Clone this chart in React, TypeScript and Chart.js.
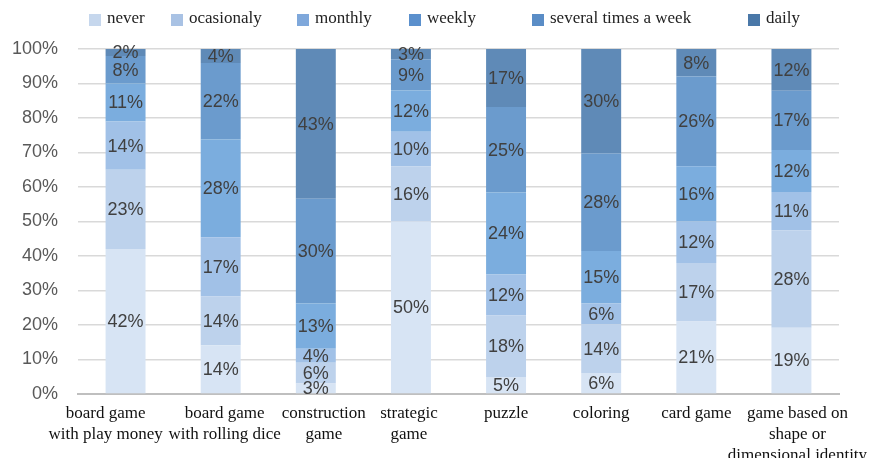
import React, { useEffect, useRef } from "react";
import { Chart, registerables } from "chart.js";

Chart.register(...registerables);

const CATEGORIES: string[][] = [
  ["board game", "with play money"],
  ["board game", "with rolling dice"],
  ["construction", "game"],
  ["strategic", "game"],
  ["puzzle"],
  ["coloring"],
  ["card game"],
  ["game based on", "shape or", "dimensional identity"],
];

const SERIES_NAMES = ["never", "ocasionaly", "monthly", "weekly", "several times a week", "daily"];

const NEVER = [42, 14, 3, 50, 5, 6, 21, 19];
const OCASIONALY = [23, 14, 6, 16, 18, 14, 17, 28];
const MONTHLY = [14, 17, 4, 10, 12, 6, 12, 11];
const WEEKLY = [11, 28, 13, 12, 24, 15, 16, 12];
const SEVERAL = [8, 22, 30, 9, 25, 28, 26, 17];
const DAILY = [2, 4, 43, 3, 17, 30, 8, 12];

const Y_TICKS = [0, 10, 20, 30, 40, 50, 60, 70, 80, 90, 100];

const SERIES = [NEVER, OCASIONALY, MONTHLY, WEEKLY, SEVERAL, DAILY];
const COLORS = ["#d7e4f4", "#bdd2ec", "#a1c1e7", "#7badde", "#6b9bcd", "#5f8ab7"];
const LEGEND_COLORS = ["#c6d7ed", "#a9c2e4", "#7fa8db", "#5b90cd", "#5a8dc6", "#4a78a8"];
const LEGEND_X = [89, 171, 297, 409, 532, 748];
const LABEL_SHIFT = [-20, 4, 8, -2, 0, 0, 0, 6];

const totals = CATEGORIES.map((_, i) => SERIES.reduce((s, arr) => s + arr[i], 0));

const labelPlugin = {
  id: "segLabels",
  afterDatasetsDraw(chart: any) {
    const ctx = chart.ctx;
    ctx.save();
    ctx.font = "18px 'Liberation Sans', Arial, sans-serif";
    ctx.fillStyle = "#404040";
    ctx.textAlign = "center";
    ctx.textBaseline = "middle";
    chart.data.datasets.forEach((ds: any, di: number) => {
      const meta = chart.getDatasetMeta(di);
      meta.data.forEach((bar: any, i: number) => {
        const raw = ds.raw[i];
        const y = (bar.y + bar.base) / 2;
        ctx.fillText(raw + "%", bar.x, y + 1);
      });
    });
    ctx.restore();
  },
};

const xLabelPlugin = {
  id: "xLabels",
  afterDraw(chart: any) {
    const ctx = chart.ctx;
    const xs = chart.scales.x;
    ctx.save();
    ctx.font = "17px 'Liberation Serif', 'Times New Roman', serif";
    ctx.fillStyle = "#111111";
    ctx.textAlign = "center";
    ctx.textBaseline = "middle";
    (chart.data.labels as string[][]).forEach((lines, i) => {
      const x = xs.getPixelForTick(i) + LABEL_SHIFT[i];
      lines.forEach((line, li) => {
        ctx.fillText(line, x, xs.top + 20 + li * 21);
      });
    });
    ctx.restore();
  },
};

const legendPlugin = {
  id: "customLegend",
  afterDraw(chart: any) {
    const ctx = chart.ctx;
    ctx.save();
    ctx.font = "17px 'Liberation Serif', 'Times New Roman', serif";
    ctx.textBaseline = "middle";
    ctx.textAlign = "left";
    SERIES_NAMES.forEach((name, i) => {
      const x = LEGEND_X[i];
      ctx.fillStyle = LEGEND_COLORS[i];
      ctx.fillRect(x, 14, 12, 12);
      ctx.fillStyle = "#222222";
      ctx.fillText(name, x + 18, 19);
    });
    ctx.restore();
  },
};

export default function App() {
  const ref = useRef<HTMLCanvasElement>(null);
  useEffect(() => {
    if (!ref.current) return;
    const chart = new Chart(ref.current, {
      type: "bar",
      data: {
        labels: CATEGORIES,
        datasets: SERIES.map((arr, si) => ({
          label: SERIES_NAMES[si],
          data: arr.map((v, i) => (v / totals[i]) * 100),
          raw: arr,
          backgroundColor: COLORS[si],
          borderWidth: 0,
          categoryPercentage: 1,
          barPercentage: 0.42,
        })) as any,
      },
      options: {
        responsive: false,
        animation: false,
        layout: { padding: { top: 49, right: 33, left: 0, bottom: 0 } },
        plugins: {
          legend: { display: false },
          tooltip: { enabled: false },
        },
        scales: {
          x: {
            stacked: true,
            grid: { display: false, drawTicks: false },
            border: { color: "#bfbfbf", width: 2 },
            ticks: { display: false },
            afterFit(scale: any) {
              scale.height = 64;
            },
          },
          y: {
            stacked: true,
            min: 0,
            max: 100,
            afterBuildTicks(scale: any) {
              scale.ticks = Y_TICKS.map((v) => ({ value: v }));
            },
            grid: { color: "#d9d9d9", lineWidth: 1.5, drawTicks: false },
            border: { display: false },
            ticks: {
              color: "#595959",
              font: { family: "'Liberation Sans', Arial, sans-serif", size: 18 },
              padding: 20,
              callback: (v: any) => v + "%",
            },
            afterFit(scale: any) {
              scale.width = 78;
            },
          },
        },
      },
      plugins: [labelPlugin, xLabelPlugin, legendPlugin],
    });
    return () => chart.destroy();
  }, []);
  return (
    <div style={{ position: "fixed", left: 0, top: 0, width: 872, height: 458, background: "#fff" }}>
      <canvas ref={ref} width={872} height={458} />
    </div>
  );
}
